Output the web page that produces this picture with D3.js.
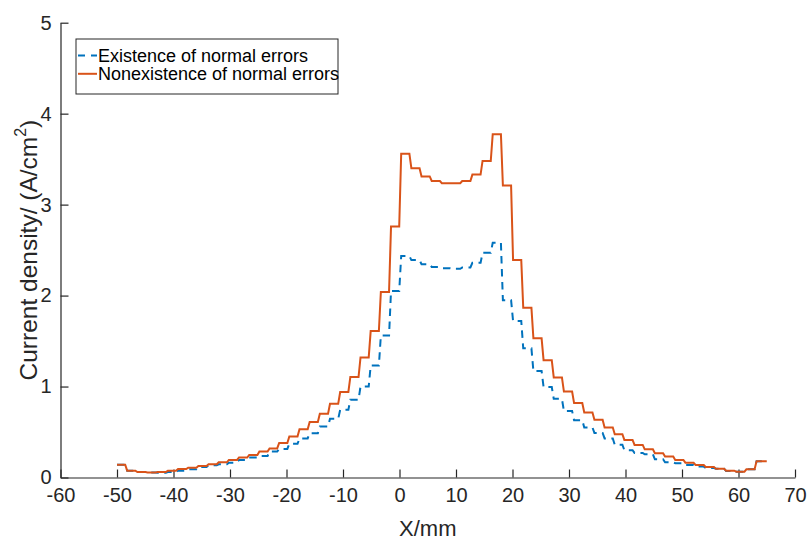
<!DOCTYPE html>
<html>
<head>
<meta charset="utf-8">
<script src="https://cdn.jsdelivr.net/npm/d3@7"></script>
<style>
body { margin: 0; background: #fff; }
svg { display: block; font-family: "Liberation Sans", Arial, Helvetica, sans-serif; }
.axis text { fill: #262626; }
.axis path, .axis line { stroke: #262626; }
</style>
</head>
<body>
<div id="chart"></div>
<script>
// step start positions along X (mm); last value closes the final step
var xPos = [-50.0, -48.2, -46.4, -44.6, -42.8, -41.0, -39.2, -37.4, -35.6, -33.8,
	-32.0, -30.2, -28.4, -26.6, -24.8, -23.0, -21.3, -19.5, -17.7, -15.9,
	-14.1, -12.3, -10.5, -8.7, -6.9, -5.1, -3.3, -1.5, 0.3, 2.1,
	3.9, 5.7, 7.5, 9.3, 11.1, 12.9, 14.7, 16.5, 18.3, 20.1,
	21.9, 23.7, 25.5, 27.3, 29.1, 30.9, 32.7, 34.5, 36.3, 38.1,
	39.8, 41.6, 43.4, 45.2, 47.0, 48.8, 50.6, 52.4, 54.2, 56.0,
	57.8, 59.6, 61.4, 63.2, 65.0];

// current density (A/cm^2), one value per step
var withErrors = [0.14, 0.075, 0.06, 0.055, 0.053, 0.06, 0.075, 0.09, 0.115, 0.134,
	0.145, 0.163, 0.193, 0.22, 0.237, 0.285, 0.314, 0.37, 0.43, 0.487,
	0.56, 0.645, 0.744, 0.855, 1.0, 1.23, 1.56, 2.05, 2.435, 2.39,
	2.345, 2.315, 2.30, 2.295, 2.31, 2.36, 2.47, 2.58, 1.95, 1.72,
	1.42, 1.17, 0.995, 0.865, 0.73, 0.63, 0.55, 0.49, 0.43, 0.36,
	0.3, 0.27, 0.255, 0.2, 0.168, 0.158, 0.138, 0.12, 0.105, 0.097,
	0.072, 0.064, 0.09, 0.18];

var withoutErrors = [0.14, 0.075, 0.06, 0.055, 0.06, 0.075, 0.093, 0.108, 0.127, 0.145,
	0.167, 0.193, 0.22, 0.248, 0.285, 0.32, 0.38, 0.45, 0.53, 0.61,
	0.70, 0.81, 0.94, 1.105, 1.32, 1.61, 2.04, 2.76, 3.56, 3.40,
	3.31, 3.26, 3.235, 3.235, 3.26, 3.33, 3.48, 3.775, 3.21, 2.39,
	1.865, 1.53, 1.29, 1.10, 0.945, 0.818, 0.714, 0.634, 0.549, 0.476,
	0.413, 0.358, 0.31, 0.267, 0.23, 0.193, 0.163, 0.138, 0.116, 0.097,
	0.075, 0.064, 0.09, 0.18];

var xTicks = [-60, -50, -40, -30, -20, -10, 0, 10, 20, 30, 40, 50, 60, 70];
var yTicks = [0, 1, 2, 3, 4, 5];
var seriesNames = ["Existence of normal errors", "Nonexistence of normal errors"];
var seriesColors = ["#0072BD", "#D95319"];

var width = 807, height = 540;

var svg = d3.select("#chart").append("svg")
	.attr("width", width)
	.attr("height", height);

var x = d3.scaleLinear().domain([-60, 70]).range([60.5, 795]);
var y = d3.scaleLinear().domain([0, 5]).range([477.5, 22.7]);

// each step: flat top, then a short slanted riser into the next step
function stepPoints(vals){
	var pts = [];
	vals.forEach(function(v, i){
		pts.push([xPos[i], v]);
		var end = (i < vals.length - 1) ? xPos[i + 1] - 0.35 : xPos[i + 1];
		pts.push([end, v]);
	});
	return pts;
}

var line = d3.line()
	.x(function(d){ return x(d[0]); })
	.y(function(d){ return y(d[1]); });

// plain hyphen minus, integers only
var fmt = function(d){ return String(d); };

// axes
var xAxis = d3.axisBottom(x).tickValues(xTicks).tickFormat(fmt)
	.tickSizeInner(-8).tickSizeOuter(0).tickPadding(10);
var yAxis = d3.axisLeft(y).tickValues(yTicks).tickFormat(fmt)
	.tickSizeInner(-8).tickSizeOuter(0).tickPadding(9);

var gx = svg.append("g")
	.attr("class", "axis")
	.attr("transform", "translate(0," + y(0) + ")")
	.call(xAxis);
gx.selectAll("text").attr("font-size", 20).attr("font-family", null);

var gy = svg.append("g")
	.attr("class", "axis")
	.attr("transform", "translate(" + x(-60) + ",0)")
	.call(yAxis);
gy.selectAll("text").attr("font-size", 20).attr("font-family", null);

svg.selectAll(".axis path, .axis line").attr("stroke-width", 1.2);

// series
svg.append("path")
	.attr("d", line(stepPoints(withErrors)))
	.attr("fill", "none")
	.attr("stroke", seriesColors[0])
	.attr("stroke-width", 2)
	.attr("stroke-dasharray", "7.5,5.5");

svg.append("path")
	.attr("d", line(stepPoints(withoutErrors)))
	.attr("fill", "none")
	.attr("stroke", seriesColors[1])
	.attr("stroke-width", 2);

// axis labels
svg.append("text")
	.attr("x", (x(-60) + x(70)) / 2)
	.attr("y", 536)
	.attr("text-anchor", "middle")
	.attr("font-size", 22)
	.attr("fill", "#262626")
	.text("X/mm");

var yl = svg.append("text")
	.attr("transform", "translate(37," + (y(0) + y(5)) / 2 + ") rotate(-90)")
	.attr("text-anchor", "middle")
	.attr("font-size", 24.5)
	.attr("fill", "#262626");
yl.append("tspan").text("Current density/ (A/cm");
yl.append("tspan").attr("font-size", 16).attr("dy", -11).text("2");
yl.append("tspan").attr("dy", 11).text(")");

// legend
var legend = svg.append("g");
legend.append("rect")
	.attr("x", 76).attr("y", 39)
	.attr("width", 262).attr("height", 55)
	.attr("fill", "#fff")
	.attr("stroke", "#262626")
	.attr("stroke-width", 1);

seriesNames.forEach(function(name, i){
	var cy = 55.5 + i * 18.3;
	legend.append("line")
		.attr("x1", 78).attr("x2", 97)
		.attr("y1", cy).attr("y2", cy)
		.attr("stroke", seriesColors[i])
		.attr("stroke-width", 2)
		.attr("stroke-dasharray", i === 0 ? "7,6" : null);
	legend.append("text")
		.attr("x", 98)
		.attr("y", cy + 6.3)
		.attr("font-size", 18)
		.attr("fill", "#000")
		.text(name);
});
</script>
</body>
</html>
